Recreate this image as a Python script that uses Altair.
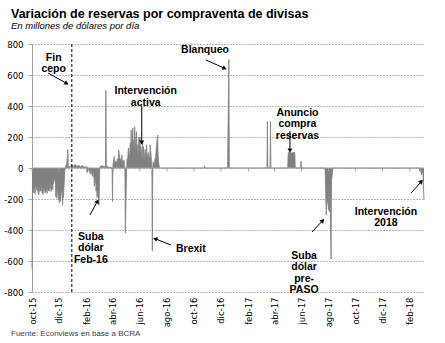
import altair as alt
import pandas as pd

titulo = "Variación de reservas por compraventa de divisas"
subtitulo = "En millones de dólares por día"
fuente = "Fuente: Econviews en base a BCRA"

# Serie diaria (millones de USD)
fechas = [
    # oct-dic 2015
    "2015-10-01", "2015-10-02", "2015-10-05", "2015-10-06", "2015-10-08", "2015-10-09",
    "2015-10-13", "2015-10-14", "2015-10-15", "2015-10-16", "2015-10-19", "2015-10-20",
    "2015-10-21", "2015-10-22", "2015-10-26", "2015-10-27", "2015-10-28", "2015-10-29",
    "2015-10-30", "2015-11-02", "2015-11-03", "2015-11-04", "2015-11-05", "2015-11-06",
    "2015-11-09", "2015-11-10", "2015-11-11", "2015-11-12", "2015-11-13", "2015-11-16",
    "2015-11-17", "2015-11-18", "2015-11-19", "2015-11-20", "2015-11-23", "2015-11-24",
    "2015-11-25", "2015-11-26", "2015-11-27", "2015-11-30", "2015-12-01", "2015-12-02",
    "2015-12-03", "2015-12-04", "2015-12-07", "2015-12-09", "2015-12-10", "2015-12-11",
    "2015-12-14", "2015-12-15", "2015-12-17", "2015-12-18", "2015-12-21", "2015-12-22",
    "2015-12-23", "2015-12-28", "2015-12-29",
    # ene-mar 2016
    "2016-01-04", "2016-01-06", "2016-01-11", "2016-01-14", "2016-01-19", "2016-01-21",
    "2016-01-26", "2016-01-28", "2016-02-01", "2016-02-03", "2016-02-04", "2016-02-10",
    "2016-02-11", "2016-02-15", "2016-02-16", "2016-02-18", "2016-02-19", "2016-02-22",
    "2016-02-23", "2016-02-24", "2016-02-25", "2016-02-26", "2016-02-29", "2016-03-01",
    "2016-03-02", "2016-03-03", "2016-03-08", "2016-03-15", "2016-03-16", "2016-03-17",
    "2016-03-18", "2016-03-22", "2016-03-30", "2016-03-31",
    # abr-jul 2016
    "2016-04-01", "2016-04-04", "2016-04-05", "2016-04-07", "2016-04-08", "2016-04-11",
    "2016-04-12", "2016-04-13", "2016-04-14", "2016-04-15", "2016-04-18", "2016-04-19",
    "2016-04-20", "2016-04-21", "2016-04-22", "2016-04-25", "2016-04-26", "2016-04-27",
    "2016-04-28", "2016-04-29", "2016-05-02", "2016-05-03", "2016-05-04", "2016-05-05",
    "2016-05-06", "2016-05-09", "2016-05-10", "2016-05-11", "2016-05-12", "2016-05-13",
    "2016-05-16", "2016-05-17", "2016-05-18", "2016-05-19", "2016-05-20", "2016-05-23",
    "2016-05-24", "2016-05-25", "2016-05-26", "2016-05-27", "2016-05-30", "2016-05-31",
    "2016-06-01", "2016-06-02", "2016-06-03", "2016-06-06", "2016-06-07", "2016-06-08",
    "2016-06-09", "2016-06-10", "2016-06-13", "2016-06-14", "2016-06-15", "2016-06-16",
    "2016-06-17", "2016-06-20", "2016-06-21", "2016-06-22", "2016-06-23", "2016-06-24",
    "2016-06-27", "2016-06-28", "2016-06-29", "2016-06-30", "2016-07-01", "2016-07-04",
    "2016-07-05", "2016-07-06", "2016-07-07", "2016-07-08", "2016-07-11", "2016-07-12",
    "2016-07-13", "2016-07-14", "2016-07-15",
    # resto 2016
    "2016-10-24", "2016-10-25", "2016-10-26", "2016-12-16", "2016-12-19", "2016-12-20",
    # 2017
    "2017-03-15", "2017-03-16", "2017-03-17", "2017-03-22", "2017-03-23", "2017-03-24",
    "2017-05-01", "2017-05-02", "2017-05-05", "2017-05-10", "2017-05-15", "2017-05-17",
    "2017-05-18", "2017-05-30", "2017-05-31", "2017-06-01",
    "2017-07-24", "2017-07-25", "2017-07-26", "2017-07-27", "2017-07-28", "2017-07-31",
    "2017-08-01", "2017-08-02", "2017-08-03", "2017-08-04", "2017-08-07", "2017-08-08",
    "2017-08-09", "2017-08-10", "2017-08-11",
    # 2018
    "2018-02-22", "2018-02-23", "2018-02-26", "2018-02-27", "2018-02-28", "2018-03-01",
    "2018-03-02", "2018-03-05",
]
valores = [
    # oct-dic 2015
    -650, -130, -160, -95, -170, -110,
    -150, -60, -165, -175, -120, -150,
    -85, -140, -170, -100, -145, -70,
    -160, -150, -110, -165, -80, -140,
    -150, -120, -135, -60, -150, -110,
    -140, -90, -100, -70, -90, -185,
    -120, -195, -110, -205, -150, -226,
    -180, -215, -120, -240, -175, -190,
    -30, 0, 20, 5, 120, 15,
    10, 5, 20,
    # ene-mar 2016
    10, 25, 8, 20, 5, 15,
    10, 3, 10, -30, 5, -40,
    -10, -55, -20, -60, -120, -70,
    -150, -100, -190, -130, -240, -170,
    -20, 10, 15, 5, 500, 5,
    10, 5, 0, -217,
    # abr-jul 2016
    20, 75, 25, 45, 15, 60,
    30, 40, 116, 90, 35, 60,
    20, 84, 50, 30, 52, 15,
    0, -420, 10, 60, 25, 90,
    130, 60, 160, 70, 245, 110,
    258, 80, 180, 120, 265, 90,
    234, 130, 150, 60, 200, 110,
    200, 70, 140, 40, 170, 100,
    137, 50, 120, 30, 90, 150,
    60, 100, 30, 70, 40, 150,
    50, 0, -535, 0, 40, 20,
    60, 30, 90, 137, 212, 80,
    40, 20, 0,
    # resto 2016
    0, 15, 0, 0, 700, 0,
    # 2017
    0, 300, 0, 0, 300, 0,
    0, 98, 100, 97, 100, 99,
    0, 0, 45, 0,
    0, -60, -180, -303, -240, -200,
    -270, -150, -282, -90, -587, -80,
    -60, -30, 0,
    # 2018
    0, -20, -10, -45, -15, -30,
    -10, -206,
]

ticks_y = [-800, -600, -400, -200, 0, 200, 400, 600, 800]
ticks_x = [(2015, 10), (2015, 12), (2016, 2), (2016, 4), (2016, 6), (2016, 8),
           (2016, 10), (2016, 12), (2017, 2), (2017, 4), (2017, 6), (2017, 8),
           (2017, 10), (2017, 12), (2018, 2)]
fin_cepo = "2015-12-30"

anot_texto = ["Fin\ncepo", "Intervención\nactiva", "Blanqueo", "Anuncio\ncompra\nreservas",
              "Suba\ndólar\nFeb-16", "Brexit", "Suba\ndólar\npre-\nPASO", "Intervención\n2018"]
anot_fecha = ["2015-11-19", "2016-06-14", "2016-10-26", "2017-05-23",
              "2016-02-11", "2016-09-24", "2017-06-07", "2017-12-09"]
anot_valor = [710, 494, 761, 358, -445, -523, -565, -281]

flecha_desde_fecha = ["2015-11-06", "2016-06-05", "2016-10-28", "2017-05-06",
                      "2016-02-09", "2016-08-10", "2017-06-25", "2018-02-04"]
flecha_desde_valor = [613, 400, 697, 239, -303, -497, -413, -161]
flecha_hasta_fecha = ["2015-12-17", "2016-06-05", "2016-12-08", "2017-05-06",
                      "2016-02-25", "2016-07-07", "2017-07-18", "2018-02-26"]
flecha_hasta_valor = [548, 168, 645, 116, -219, -458, -342, -90]
flecha_angulo = [119, 180, 114, 180, 28, 292, 42, 42]

FONT_AX = "DejaVu Sans"
FONT_TX = "Liberation Sans"
GRIS = "#808080"

df = pd.DataFrame({"fecha": pd.to_datetime(fechas), "valor": valores})
df_ticks = pd.DataFrame({
    "fecha": pd.to_datetime([f"{y}-{m:02d}-01" for y, m in ticks_x]),
    "y0": [0] * len(ticks_x), "y1": [-22] * len(ticks_x)})
df_anot = pd.DataFrame({"fecha": pd.to_datetime(anot_fecha), "valor": anot_valor, "texto": anot_texto})
df_fl = pd.DataFrame({
    "f0": pd.to_datetime(flecha_desde_fecha), "v0": flecha_desde_valor,
    "f1": pd.to_datetime(flecha_hasta_fecha), "v1": flecha_hasta_valor,
    "ang": flecha_angulo})

xscale = alt.Scale(domain=[alt.DateTime(year=2015, month=10, date=1),
                           alt.DateTime(year=2018, month=3, date=5)])
yscale = alt.Scale(domain=[-800, 800], nice=False, zero=False)

mes_expr = ("['ene','feb','mar','abr','may','jun','jul','ago','sep','oct','nov','dic']"
            "[month(datum.value)] + '-' + timeFormat(datum.value, '%y')")

xaxis = alt.Axis(
    values=[alt.DateTime(year=y, month=m, date=1) for y, m in ticks_x],
    labelAngle=270, labelExpr=mes_expr, domain=False, ticks=False, grid=False,
    labelPadding=5, labelFont=FONT_AX, labelFontSize=8.5, labelColor="#000",
    labelOverlap=False, title=None)
yaxis = alt.Axis(
    values=ticks_y, labelExpr="'' + datum.value", grid=True, gridDash=[1, 2],
    gridColor="#707070", gridWidth=1, domainColor="#A6A6A6", tickColor="#A6A6A6",
    tickSize=4, labelPadding=5, labelFont=FONT_AX, labelFontSize=8.5,
    labelColor="#000", title=None)


def X(campo):
    return alt.X(campo, scale=xscale, axis=xaxis, title=None)


def Y(campo):
    return alt.Y(campo, scale=yscale, axis=yaxis, title=None)


area = alt.Chart(df).mark_area(
    color=GRIS, opacity=1, line={"color": GRIS, "strokeWidth": 0.8}
).encode(x=X("fecha:T"), y=Y("valor:Q"))

cero = alt.Chart(pd.DataFrame({"v": [0]})).mark_rule(color="#A0A0A0", strokeWidth=1).encode(
    y=Y("v:Q"))

marcas = alt.Chart(df_ticks).mark_rule(color="#A0A0A0", strokeWidth=1).encode(
    x=X("fecha:T"), y=Y("y0:Q"), y2="y1:Q")

cepo = alt.Chart(pd.DataFrame({"fecha": pd.to_datetime([fin_cepo]), "a": [800], "b": [-800]})).mark_rule(
    color="#000", strokeWidth=1, strokeDash=[3, 2]).encode(
    x=X("fecha:T"), y=Y("a:Q"), y2="b:Q")

lineas = alt.Chart(df_fl).mark_rule(color="#000", strokeWidth=1).encode(
    x=X("f0:T"), x2="f1:T", y=Y("v0:Q"), y2="v1:Q")

puntas = alt.Chart(df_fl).mark_point(shape="triangle", filled=True, size=24, color="#000", opacity=1).encode(
    x=X("f1:T"), y=Y("v1:Q"), angle=alt.Angle("ang:Q", scale=None))

textos = alt.Chart(df_anot).mark_text(
    font=FONT_TX, fontSize=10.5, fontWeight="bold", color="#000", lineBreak="\n",
    lineHeight=11.5, align="center", baseline="middle").encode(
    x=X("fecha:T"), y=Y("valor:Q"), text="texto:N")

t1 = alt.Chart(pd.DataFrame({"t": [titulo]})).mark_text(
    font=FONT_TX, fontSize=12.5, fontWeight="bold", color="#000", align="left",
    baseline="alphabetic").encode(text="t:N", x=alt.value(-21), y=alt.value(-26))
t2 = alt.Chart(pd.DataFrame({"t": [subtitulo]})).mark_text(
    font=FONT_TX, fontSize=9.5, fontStyle="italic", color="#000", align="left",
    baseline="alphabetic").encode(text="t:N", x=alt.value(-21), y=alt.value(-15))
t3 = alt.Chart(pd.DataFrame({"t": [fuente]})).mark_text(
    font=FONT_TX, fontSize=8, color="#404040", align="left",
    baseline="alphabetic").encode(text="t:N", x=alt.value(-21), y=alt.value(292))

chart = alt.layer(area, cero, marcas, cepo, lineas, puntas, textos, t1, t2, t3).properties(
    width=392, height=248,
    padding={"left": 32, "top": 44, "right": 21, "bottom": 51},
    autosize=alt.AutoSizeParams(type="none"),
    background="white",
).configure_view(strokeWidth=0)

chart.save("out.html", embed_options={"renderer": "svg", "actions": False})
